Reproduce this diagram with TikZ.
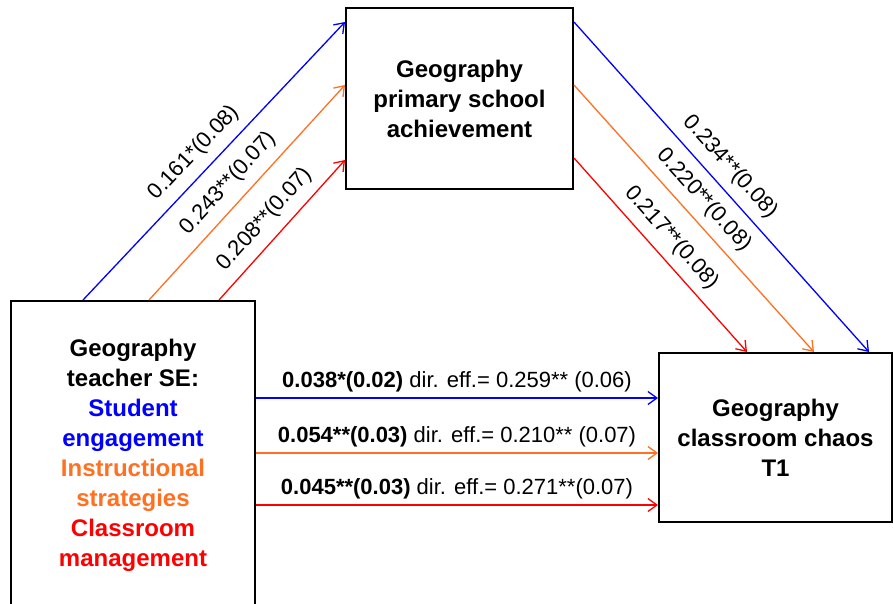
\documentclass[tikz,border=0pt]{standalone}
\usepackage{fontspec}
\setmainfont{Liberation Sans}
\usetikzlibrary{arrows.meta}
\definecolor{cblue}{RGB}{0,0,255}
\definecolor{corange}{RGB}{255,112,32}
\definecolor{cred}{RGB}{255,0,0}
\begin{document}
\begin{tikzpicture}[x=1pt,y=-1pt,
  box/.style={draw=black, line width=2pt, fill=white, inner sep=0pt, align=center,
    font=\fontsize{24}{30}\selectfont\bfseries},
  arr/.style={line width=1.3pt, -{Straight Barb[length=9pt,width=13pt,line width=1.3pt]}},
  lab/.style={font=\fontsize{22}{26}\selectfont, inner sep=2pt, text=black},
  diag/.style={lab, sloped, above=7pt, pos=0.48},
  horiz/.style={lab, above=3pt, midway},
]
\useasboundingbox (0,0) rectangle (893,603);
\fill[white] (0,0) rectangle (893,603);

\node[box, minimum width=244pt, minimum height=309pt] (L) at (133,455.5)
  {Geography\\teacher SE:\\\textcolor{cblue}{Student}\\\textcolor{cblue}{engagement}\\
   \textcolor{corange}{Instructional}\\\textcolor{corange}{strategies}\\
   \textcolor{cred}{Classroom}\\\textcolor{cred}{management}};
\node[box, minimum width=227pt, minimum height=181pt] (M) at (459.5,98.5)
  {Geography\\primary school\\achievement};
\node[box, minimum width=233pt, minimum height=169pt] (R) at (775.5,437.5)
  {Geography\\classroom chaos\\T1};

% anchor points
\coordinate (Lb) at (83,300);  \coordinate (Lo) at (149,300); \coordinate (Lr) at (219,300);
\coordinate (Mlb) at (345,22); \coordinate (Mlo) at (345,85); \coordinate (Mlr) at (345,160);
\coordinate (Mrb) at (574,22); \coordinate (Mro) at (574,85); \coordinate (Mrr) at (574,158);
\coordinate (Rtb) at (869,352); \coordinate (Rto) at (814,352); \coordinate (Rtr) at (747,352);
\coordinate (Lhb) at (256,398); \coordinate (Lho) at (256,453); \coordinate (Lhr) at (256,505);
\coordinate (Rhb) at (658,398); \coordinate (Rho) at (658,453); \coordinate (Rhr) at (658,505);

% a paths
\draw[arr, cblue] (Lb) -- node[diag] {0.161*(0.08)} (Mlb);
\draw[arr, corange] (Lo) -- node[diag] {0.243**(0.07)} (Mlo);
\draw[arr, cred] (Lr) -- node[diag] {0.208**(0.07)} (Mlr);

% b paths
\draw[arr, cblue] (Mrb) -- node[diag] {0.234**(0.08)} (Rtb);
\draw[arr, corange] (Mro) -- node[diag] {0.220**(0.08)} (Rto);
\draw[arr, cred] (Mrr) -- node[diag] {0.217**(0.08)} (Rtr);

% direct / indirect
\draw[arr, cblue] (Lhb) -- node[horiz] {\textbf{0.038*(0.02)} dir. eff.= 0.259** (0.06)} (Rhb);
\draw[arr, corange] (Lho) -- node[horiz] {\textbf{0.054**(0.03)} dir. eff.= 0.210** (0.07)} (Rho);
\draw[arr, cred] (Lhr) -- node[horiz] {\textbf{0.045**(0.03)} dir. eff.= 0.271**(0.07)} (Rhr);
\end{tikzpicture}
\end{document}
